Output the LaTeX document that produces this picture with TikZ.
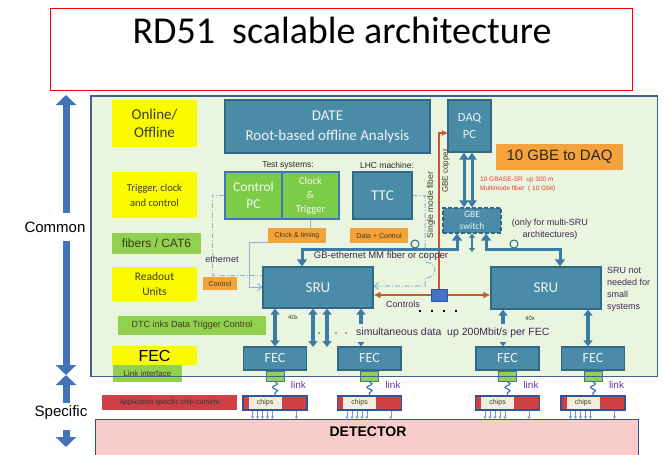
\documentclass[tikz,border=0pt]{standalone}
\usepackage{fontspec}
\setmainfont{Carlito}
\newfontfamily\arialf{Liberation Sans}
\usetikzlibrary{arrows.meta,decorations.pathmorphing}
\newcommand\fsz[2]{\fontsize{#1}{#2}\selectfont}
\definecolor{panelgreen}{RGB}{234,245,224}
\definecolor{panelline}{RGB}{62,96,140}
\definecolor{boxteal}{RGB}{74,139,168}
\definecolor{boxline}{RGB}{48,104,134}
\definecolor{lblyellow}{RGB}{250,250,0}
\definecolor{lblgreen}{RGB}{146,208,80}
\definecolor{pcgreen}{RGB}{124,204,72}
\definecolor{lblorange}{RGB}{244,162,60}
\definecolor{chipred}{RGB}{205,64,70}
\definecolor{chipcream}{RGB}{240,238,226}
\definecolor{carline}{RGB}{47,85,151}
\definecolor{detpink}{RGB}{249,204,204}
\definecolor{bigblue}{RGB}{66,114,186}
\definecolor{arrowteal}{RGB}{58,124,164}
\definecolor{ethblue}{RGB}{140,178,212}
\definecolor{fiberred}{RGB}{200,85,50}
\definecolor{ctrlbrown}{RGB}{192,96,42}
\definecolor{smallblue}{RGB}{68,114,196}
\definecolor{chipblue}{RGB}{107,155,208}
\definecolor{darklbl}{RGB}{60,60,25}
\definecolor{notetext}{RGB}{60,40,80}
\definecolor{linkpurple}{RGB}{112,48,160}
\definecolor{redtext}{RGB}{230,60,50}
\begin{document}
\begin{tikzpicture}[x=1pt,y=-1pt,
  every node/.style={inner sep=0pt},
  yellowlbl/.style={fill=lblyellow,text=darklbl,align=center},
  greenlbl/.style={fill=lblgreen,text=darklbl,align=center},
  orangelbl/.style={fill=lblorange,text=darklbl,font=\arialf\fsz{7}{8}},
  tealbox/.style={fill=boxteal,draw=boxline,line width=1.2pt,text=white!90!boxteal,align=center},
  pcbox/.style={fill=pcgreen,draw=bigblue,line width=1.2pt,text=white!92!pcgreen,align=center,minimum width=57,minimum height=47},
  fecbox/.style={tealbox,minimum width=63,minimum height=23,font=\fsz{14}{16}},
  srubox/.style={tealbox,minimum width=110,minimum height=41,font=\fsz{15}{17}},
  linkbox/.style={fill=lblgreen,draw=bigblue,line width=1pt,minimum width=18,minimum height=10},
  carrier/.style={fill=chipred,draw=carline,line width=1.2pt,minimum width=64,minimum height=14},
  chipsbox/.style={fill=chipcream,minimum width=33,minimum height=11.5,font=\arialf\fsz{7}{8},text=darklbl},
  note/.style={font=\arialf\fsz{9}{12},text=notetext,align=left},
  bigarrow/.style={draw=bigblue,line width=7pt,-{Triangle[width=20pt,length=10pt]}},
  dataarrow/.style={draw=arrowteal,line width=4pt,{Triangle[width=9pt,length=6pt]}-{Triangle[width=9pt,length=6pt]}},
  gbearrow/.style={draw=arrowteal,line width=3pt,{Triangle[width=10pt,length=7pt]}-{Triangle[width=10pt,length=7pt]}},
  ethline/.style={draw=ethblue,line width=1pt,dash pattern=on 5pt off 2pt on 1pt off 2pt},
  ethsolid/.style={draw=ethblue,line width=1pt,-{Straight Barb[length=4pt,width=7pt]}},
  fiber/.style={draw=fiberred,line width=1.2pt,-{Stealth[length=6pt,width=6pt]}},
  ctrlarrow/.style={draw=ctrlbrown,line width=1.5pt,-{Latex[length=7pt,width=7pt]}},
  chiparrow/.style={draw=chipblue,line width=.8pt,-{Stealth[length=3pt,width=3pt]}},
  linkline/.style={draw=bigblue,line width=1.2pt,decorate,decoration={snake,segment length=7pt,amplitude=2.5pt}}
]
\useasboundingbox (0,0) rectangle (670,455);
\node[draw=red,line width=0.8pt,minimum width=582,minimum height=82,anchor=north west] (titlebox) at (50,8) {};
\node[font=\fsz{38}{40}] (title) at (342,30) {RD51\ \ scalable architecture};
\node[fill=panelgreen,minimum width=566,minimum height=280,anchor=north west] (panel) at (91,96) {};
\node[fill=detpink,draw=carline,line width=1.2pt,minimum width=543,minimum height=60,anchor=north west] (det) at (95,419) {};
\node[font=\arialf\bfseries\fsz{14}{16}] (dettxt) at (368,432) {DETECTOR};
\coordinate (comTop) at (66,95);
\coordinate (comBot) at (66,375);
\coordinate (specBot) at (66,447);
\node[font=\arialf\fsz{15}{17},minimum height=28] (common) at (55,227) {Common};
\node[font=\arialf\fsz{15}{17},minimum height=20] (specific) at (61,413) {Specific};
\draw[bigarrow] (comTop |- common.north) -- (comTop);
\draw[bigarrow] (comTop |- common.south) -- (comBot);
\draw[bigarrow] (comBot |- specific.north) -- (comBot);
\draw[bigarrow] ([yshift=-7pt]specBot |- specific.south) -- (specBot);
\node[yellowlbl,minimum width=85,minimum height=47,font=\fsz{15}{18}] (online) at (154.5,123.5) {Online/\\Offline};
\node[yellowlbl,minimum width=85,minimum height=46,font=\fsz{10.5}{15}] (trigger) at (154.5,195) {Trigger, clock\\and control};
\node[greenlbl,minimum width=89,minimum height=21,font=\arialf\fsz{12}{14}] (fibers) at (156.5,243.5) {fibers / CAT6};
\node[yellowlbl,minimum width=85,minimum height=34,font=\fsz{11.5}{15}] (readout) at (154.5,284) {Readout\\Units};
\node[greenlbl,minimum width=148,minimum height=19,font=\arialf\fsz{9}{10}] (dtc) at (192,325.5) {DTC inks Data Trigger Control};
\node[yellowlbl,minimum width=85,minimum height=19,font=\arialf\fsz{16}{18},text=black] (fecY) at (154.5,355.5) {FEC};
\node[greenlbl,minimum width=69,minimum height=17,font=\arialf\fsz{8}{9}] (linkif) at (147.5,373.5) {Link interface};
\node[fill=chipred,minimum width=135,minimum height=15,font=\arialf\fsz{7}{8},text=black!80] (appl) at (169.5,402.5) {Application specific chip-carriers};
\node[tealbox,minimum width=205,minimum height=53,font=\fsz{15}{20}] (date) at (327.5,126.5) {DATE\\Root-based\ offline Analysis};
\node[font=\arialf\fsz{8.5}{10},text=black!85] (testsys) at (288,165) {Test systems:};
\node[font=\arialf\fsz{8.5}{10},text=black!85] (lhc) at (387,165) {LHC machine:};
\node[pcbox,font=\fsz{13.5}{17}] (ctrlpc) at (253.5,195.5) {Control\\PC};
\node[pcbox,font=\fsz{10.5}{14}] (clktrg) at (310.5,195.5) {Clock\\\&\\Trigger};
\node[tealbox,minimum width=59,minimum height=47,font=\fsz{15}{17}] (ttc) at (382.5,195.5) {TTC};
\node[srubox] (sruL) at (318,287.5) {SRU};
\node[srubox,minimum height=42] (sruR) at (546,288) {SRU};
\node[tealbox,minimum width=43,minimum height=52,font=\fsz{12.5}{17}] (daqpc) at (469.5,126) {DAQ\\PC};
\node[tealbox,dash pattern=on 4pt off 2pt,minimum width=58,minimum height=25,font=\fsz{9.5}{12}] (gbesw) at (472,220.5) {GBE\\switch};
\node[fill=lblorange,minimum width=127,minimum height=26,font=\arialf\fsz{15}{16},text=black!85] (gbe10) at (559.5,157) {10 GBE to DAQ};
\node[anchor=west,font=\arialf\fsz{6.5}{9},text=redtext,align=left] (srnote) at (480,184.5) {10 GBASE-SR\ \ up 300 m\\Multimode fiber\ \ ( 10 Gbit)};
\node[note,align=center] (onlyfor) at (550,229.5) {(only for multi-SRU\\architectures)};
\node[note,anchor=north west] (srunote) at (607,267) {SRU not\\needed for\\small\\systems};
\draw[ethline] (ctrlpc.west) -| (212,275) -- (sruL.west |- 0,275);
\draw[ethsolid] (clktrg.south) |- (249,242) |- (sruL.west |- 0,287);
\draw[ethline,-{Straight Barb[length=4pt,width=7pt]}] (ttc.east) -| (425,262) .. controls (438,262) and (438,278) .. (425,278) -- (425,286) -- (sruL.east |- 0,286);
\node[orangelbl,minimum width=58,minimum height=15] (clktim) at (297,235.5) {Clock \& timing};
\node[orangelbl,minimum width=58,minimum height=15] (datactl) at (379,235.5) {Data + Control};
\node[orangelbl,minimum width=34,minimum height=13] (ctrlO) at (220,283.5) {Control};
\node[fill=panelgreen,inner sep=1pt,font=\arialf\fsz{9}{10},text=notetext] (ethtxt) at (222,259) {ethernet};
\node[rotate=90,font=\arialf\fsz{8.5}{10},text=darklbl] (smf) at (431,205) {Single mode fiber};
\node[rotate=90,font=\arialf\fsz{8}{10},text=darklbl] (gbecu) at (446,171) {GBE copper};
\node[fill=smallblue,draw=carline,line width=1pt,minimum width=16,minimum height=12] (ctl) at (439,295) {};
\draw[fiber] (ctl.north) |- ([yshift=-7pt]daqpc.west);
\draw[ctrlarrow] (ctl.west) -- (ctl.west -| sruL.east);
\draw[ctrlarrow] (ctl.east) -- (ctl.east -| sruR.west);
\node[font=\arialf\fsz{9}{10},text=notetext] (ctrltxt) at (403,304) {Controls};
\foreach \x in {420,432,444,456} \fill (\x-1.4,309.6) rectangle ++(2.8,2.8);
\draw[gbearrow] (gbesw.south -| 457,0) |- (302,249) -- (sruL.north -| 302,0);
\draw[gbearrow] (gbesw.south -| 486,0) |- (560,249) -- (sruR.north -| 560,0);
\coordinate (gbemid) at (472,252);
\draw[draw=arrowteal,line width=1.5pt,{Triangle[width=6pt,length=4pt]}-{Triangle[width=6pt,length=4pt]}] (gbesw.south) -- (gbemid);
\draw[gbearrow,{Triangle[width=9pt,length=7pt]}-{Triangle[width=9pt,length=7pt]}] (daqpc.south -| 464,0) -- (gbesw.north -| 464,0);
\draw[gbearrow,{Triangle[width=9pt,length=7pt]}-{Triangle[width=9pt,length=7pt]}] (daqpc.south -| 472,0) -- (gbesw.north -| 472,0);
\foreach \x in {415,514} \draw[draw=boxline,fill=panelgreen,line width=1pt] (\x,244) circle[radius=4];
\node[font=\arialf\fsz{9.5}{10},text=notetext] (gbetxt) at (381,256) {GB-ethernet MM fiber or copper};
\node[fecbox] (fecA) at (275,358.5) {FEC};
\node[fecbox] (fecB) at (369.5,358.5) {FEC};
\node[fecbox] (fecC) at (507.5,358.5) {FEC};
\node[fecbox] (fecD) at (593,358.5) {FEC};
\coordinate (dA) at (313,347);
\coordinate (dB) at (327,347);
\draw[dataarrow] (sruL.south -| fecA.north) -- (fecA.north);
\draw[dataarrow] (sruL.south -| dA) -- (dA);
\draw[dataarrow] (sruL.south -| dB) -- (dB);
\draw[dataarrow] (fecB.north -| 361,0) -- (sruL.south -| 361,0);
\draw[dataarrow] (fecC.north -| 503,0) -- (sruR.south -| 503,0);
\draw[dataarrow] (sruR.south -| 588,0) -- (fecD.north -| 588,0);
\node[fill=panelgreen,inner xsep=1pt,inner ysep=4pt,anchor=west,font=\arialf\fsz{10.5}{11},text=notetext] (simtxt) at (355,333) {simultaneous data\ \ up 200Mbit/s per FEC};
\foreach \x in {319,336,346} \fill[black!70] (\x,333) circle[radius=0.9];
\node[font=\arialf\fsz{6}{7},text=darklbl] (n40a) at (293,317) {40x};
\node[font=\arialf\fsz{6}{7},text=darklbl] (n40b) at (530,318) {40x};
\foreach \f in {A,B,C,D} {
  \node[linkbox,anchor=north] (lk\f) at (fec\f.south) {};
  \node[carrier] (car\f) at (fec\f.south |- 0,403) {};
  \node[chipsbox,anchor=west] (ch\f) at ([xshift=6pt]car\f.west) {chips};
  \draw[linkline] (lk\f.south) -- (car\f.north);
  \node[font=\arialf\fsz{10}{11},text=linkpurple] (lb\f) at ([xshift=14pt,yshift=-9pt]lk\f.east) {link};
  \foreach \dx in {10,15,20,25,30,54} \draw[chiparrow] ([xshift=\dx]car\f.south west) -- ([xshift=\dx]car\f.south west |- det.north);
}
\draw[draw=panelline,line width=1.2pt] (panel.north west) rectangle (panel.south east);
\end{tikzpicture}
\end{document}
